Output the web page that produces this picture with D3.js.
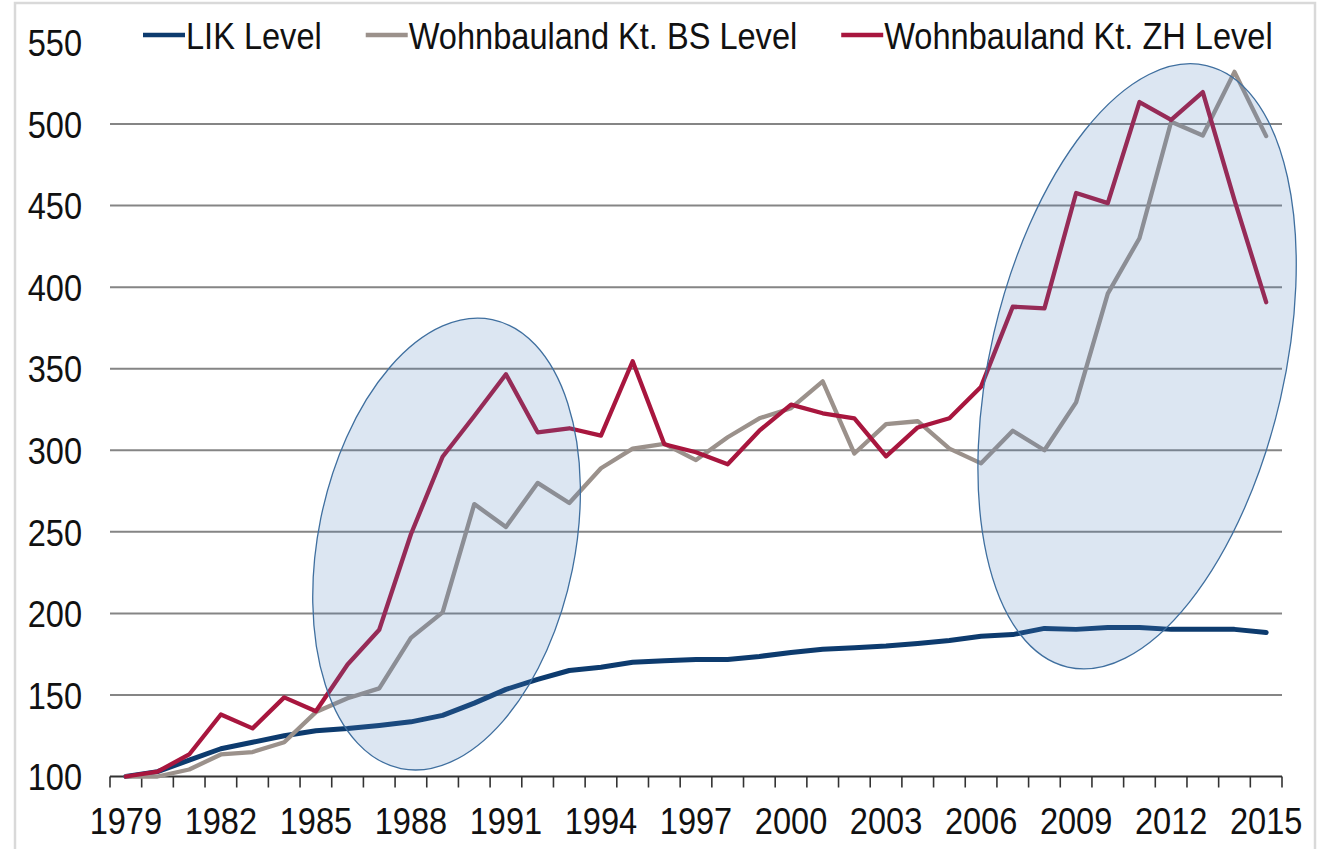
<!DOCTYPE html>
<html>
<head>
<meta charset="utf-8">
<script src="https://cdn.jsdelivr.net/npm/d3@7"></script>
<style>
  html, body { margin: 0; padding: 0; background: #fff; }
  svg { display: block; font-family: "Liberation Sans", Arial, sans-serif; }
</style>
</head>
<body>
<svg id="chart" width="1318" height="849"></svg>
<script>
const years = d3.range(1979, 2016);

const likLevel = [
  100, 103, 110, 117, 121, 125, 128, 129.4, 131.3, 133.5, 137.5, 145, 153.4, 159.5, 165,
  167, 170, 171, 171.8, 171.8, 173.6, 176, 178, 179, 180, 181.6, 183.4, 186, 187,
  190.8, 190.2, 191.4, 191.4, 190.2, 190.2, 190.2, 188.3
];

const bsLevel = [
  100, 100, 104.3, 113.5, 115, 121, 139.5, 148, 154, 185, 200.6, 267, 253, 280, 267.7,
  289, 301, 304, 294, 308, 319.6, 325.8, 342.3, 298, 316, 317.8, 301, 292, 312,
  300, 329.4, 396, 430, 501.4, 493, 532, 492.6
];

const zhLevel = [
  100, 103, 113.5, 138, 129.5, 148.5, 140, 168.7, 190, 248.5, 296, 321, 346.6, 311, 313.5,
  309, 354.6, 303.7, 298.8, 291.4, 312, 328, 322.7, 319.6, 296.3, 314, 319.6, 339, 388,
  387, 457.7, 451.5, 513.5, 502.5, 519.6, 453.4, 390.8
];

const seriesNames = ["LIK Level", "Wohnbauland Kt. BS Level", "Wohnbauland Kt. ZH Level"];
const seriesColors = ["#0d3b6e", "#9b918b", "#a8163e"];
const seriesWidths = [5, 4.3, 4.3];

const yTicks = d3.range(100, 551, 50);
const xLabelYears = years.filter((y) => (y - 1979) % 3 === 0);

// highlighted periods, as year span, value span and tilt in degrees
const highlightFrom = [1984.9, 2005.9];
const highlightTo = [1993.35, 2015.95];
const highlightLow = [104, 166];
const highlightHigh = [381, 537];
const highlightTilt = [11.5, 13];

const TEXT_SCALE = 0.88;
const FONT_SIZE = 37;

const svg = d3.select("#chart");

const plot = { left: 110, right: 1282, top: 42.5, bottom: 776.5 };

const x = d3.scaleBand().domain(years).range([plot.left, plot.right]).padding(0);
const y = d3.scaleLinear().domain([100, 550]).range([plot.bottom, plot.top]);
const xCont = d3.scaleLinear()
  .domain([1979, 2015])
  .range([x(1979) + x.bandwidth() / 2, x(2015) + x.bandwidth() / 2]);

// outer frame
svg.append("rect")
  .attr("x", 15)
  .attr("y", 3)
  .attr("width", 1300)
  .attr("height", 880)
  .attr("fill", "#fff")
  .attr("stroke", "#d9d9d9")
  .attr("stroke-width", 2.5);

// gridlines
svg.append("g")
  .selectAll("line.grid")
  .data(yTicks.filter((v) => v > 100 && v < 550))
  .join("line")
  .attr("class", "grid")
  .attr("x1", plot.left)
  .attr("x2", plot.right)
  .attr("y1", (d) => y(d))
  .attr("y2", (d) => y(d))
  .attr("stroke", "#858585")
  .attr("stroke-width", 2);

// y labels
const yAxis = svg.append("g")
  .attr("transform", `translate(${plot.left},0)`)
  .call(d3.axisLeft(y).tickValues(yTicks).tickSize(0).tickFormat(d3.format("d")));
yAxis.select(".domain").remove();
yAxis.selectAll("text")
  .attr("x", -28 / TEXT_SCALE)
  .attr("dy", "0.358em")
  .attr("transform", `scale(${TEXT_SCALE},1)`)
  .attr("font-size", FONT_SIZE)
  .attr("font-family", "'Liberation Sans', Arial, sans-serif")
  .attr("fill", "#111");

// x axis line and boundary ticks
const xAxisG = svg.append("g");
xAxisG.append("line")
  .attr("x1", plot.left)
  .attr("x2", plot.right)
  .attr("y1", plot.bottom)
  .attr("y2", plot.bottom)
  .attr("stroke", "#333")
  .attr("stroke-width", 2);

const boundaries = years.map((yr) => x(yr)).concat([x(2015) + x.bandwidth()]);
xAxisG.selectAll("line.tick-mark")
  .data(boundaries)
  .join("line")
  .attr("class", "tick-mark")
  .attr("x1", (d) => d)
  .attr("x2", (d) => d)
  .attr("y1", plot.bottom)
  .attr("y2", plot.bottom + 11)
  .attr("stroke", "#333")
  .attr("stroke-width", 1.6);

const xAxis = svg.append("g")
  .attr("transform", `translate(0,${plot.bottom})`)
  .call(d3.axisBottom(x).tickValues(xLabelYears).tickSize(0).tickFormat(d3.format("d")));
xAxis.select(".domain").remove();
xAxis.selectAll("text")
  .attr("y", 58)
  .attr("dy", "0")
  .attr("transform", `scale(${TEXT_SCALE},1)`)
  .attr("font-size", FONT_SIZE)
  .attr("font-family", "'Liberation Sans', Arial, sans-serif")
  .attr("fill", "#111");

// series lines
const allSeries = [likLevel, bsLevel, zhLevel];
const line = d3.line()
  .x((d, i) => x(years[i]) + x.bandwidth() / 2)
  .y((d) => y(d));

svg.append("g")
  .selectAll("path.series")
  .data(allSeries)
  .join("path")
  .attr("class", "series")
  .attr("d", (d) => line(d))
  .attr("fill", "none")
  .attr("stroke", (d, i) => seriesColors[i])
  .attr("stroke-width", (d, i) => seriesWidths[i])
  .attr("stroke-linejoin", "round")
  .attr("stroke-linecap", "round");

// highlight ellipses
const highlights = highlightFrom.map((f, i) => {
  const x0 = xCont(f);
  const x1 = xCont(highlightTo[i]);
  const y0 = y(highlightHigh[i]);
  const y1 = y(highlightLow[i]);
  return { cx: (x0 + x1) / 2, cy: (y0 + y1) / 2, hw: (x1 - x0) / 2, hh: (y1 - y0) / 2, tilt: highlightTilt[i] };
});

svg.append("g")
  .selectAll("ellipse.highlight")
  .data(highlights)
  .join("ellipse")
  .attr("class", "highlight")
  .each(function (d) {
    // semi-axes from the bounding half-width/height and the tilt
    const t = (d.tilt * Math.PI) / 180;
    const s2 = Math.sin(t) ** 2;
    const c2 = Math.cos(t) ** 2;
    const H = d.hh * d.hh;
    const W = d.hw * d.hw;
    const sum = H + W;
    const diff = (H - W) / (c2 - s2);
    const a = Math.sqrt((sum + diff) / 2);
    const b = Math.sqrt((sum - diff) / 2);
    d3.select(this)
      .attr("cx", 0)
      .attr("cy", 0)
      .attr("rx", b)
      .attr("ry", a)
      .attr("transform", `translate(${d.cx},${d.cy}) rotate(${d.tilt})`);
  })
  .attr("fill", "#4f81bd")
  .attr("fill-opacity", 0.2)
  .attr("stroke", "#3f6f9f")
  .attr("stroke-width", 1.3);

// legend
const legend = svg.append("g").attr("class", "legend");
let lx = 143;
seriesNames.forEach((name, i) => {
  legend.append("line")
    .attr("x1", lx)
    .attr("x2", lx + 42)
    .attr("y1", 35)
    .attr("y2", 35)
    .attr("stroke", seriesColors[i])
    .attr("stroke-width", 4.5);
  const txt = legend.append("text")
    .attr("x", (lx + 43) / TEXT_SCALE)
    .attr("y", 49)
    .attr("transform", `scale(${TEXT_SCALE},1)`)
    .attr("font-size", FONT_SIZE)
    .attr("fill", "#111")
    .text(name);
  const w = txt.node().getComputedTextLength() * TEXT_SCALE;
  lx = lx + 43 + w + 44;
});
</script>
</body>
</html>
